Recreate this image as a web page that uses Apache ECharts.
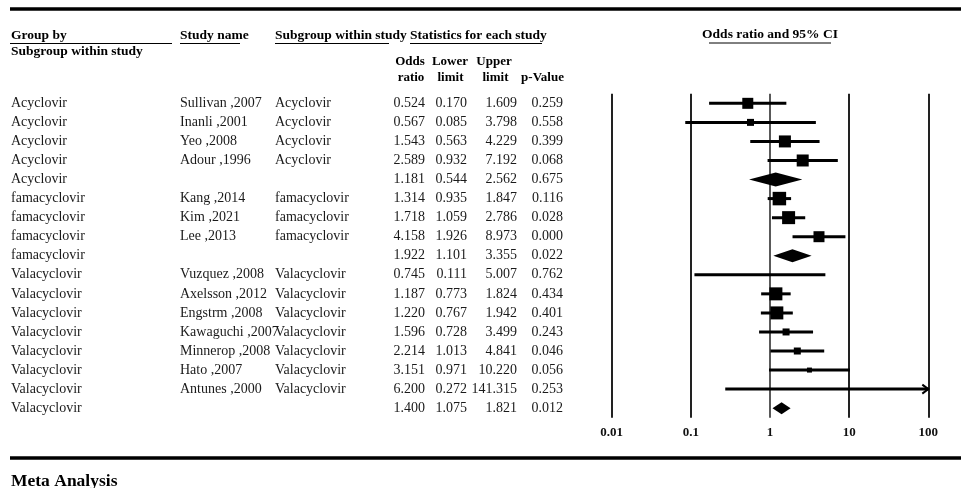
<!DOCTYPE html>
<html><head><meta charset="utf-8">
<script src="https://cdn.jsdelivr.net/npm/echarts@6/dist/echarts.min.js"></script>
<style>html,body{margin:0;padding:0;background:#fff}#c{width:961px;height:488px}</style>
</head><body><div id="c"></div>
<script>
const groups = ['Acyclovir','Acyclovir','Acyclovir','Acyclovir','Acyclovir',
  'famacyclovir','famacyclovir','famacyclovir','famacyclovir',
  'Valacyclovir','Valacyclovir','Valacyclovir','Valacyclovir','Valacyclovir','Valacyclovir','Valacyclovir','Valacyclovir'];
const studies = ['Sullivan ,2007','Inanli ,2001','Yeo ,2008','Adour ,1996','',
  'Kang ,2014','Kim ,2021','Lee ,2013','',
  'Vuzquez ,2008','Axelsson ,2012','Engstrm ,2008','Kawaguchi ,2007','Minnerop ,2008','Hato ,2007','Antunes ,2000',''];
const subgroups = ['Acyclovir','Acyclovir','Acyclovir','Acyclovir','',
  'famacyclovir','famacyclovir','famacyclovir','',
  'Valacyclovir','Valacyclovir','Valacyclovir','Valacyclovir','Valacyclovir','Valacyclovir','Valacyclovir',''];
const oddsRatio  = [0.524,0.567,1.543,2.589,1.181,1.314,1.718,4.158,1.922,0.745,1.187,1.220,1.596,2.214,3.151,6.200,1.400];
const lowerLimit = [0.170,0.085,0.563,0.932,0.544,0.935,1.059,1.926,1.101,0.111,0.773,0.767,0.728,1.013,0.971,0.272,1.075];
const upperLimit = [1.609,3.798,4.229,7.192,2.562,1.847,2.786,8.973,3.355,5.007,1.824,1.942,3.499,4.841,10.220,141.315,1.821];
const pValue     = [0.259,0.558,0.399,0.068,0.675,0.116,0.028,0.000,0.022,0.762,0.434,0.401,0.243,0.046,0.056,0.253,0.012];
const rowType = ['study','study','study','study','summary','study','study','study','summary',
  'study','study','study','study','study','study','study','summary'];
const markSize = [11,7,12,12,14,13.5,13,11,13,1,13,13,7,7,5,1,12];
const xTicks = [0.01,0.1,1,10,100];
const tickLabels = ['0.01','0.1','1','10','100'];

const SERIF = '"Liberation Serif","Times New Roman",serif';
const chart = echarts.init(document.getElementById('c'), null, {renderer:'canvas'});

function txt(text, x, y, o) {
  o = o || {};
  return {type:'text', x:x, y:y, silent:true, style:{text:text, fill:o.fill||'#000',
    fontSize:o.size||13.5, fontWeight:o.weight||'bold', fontFamily:SERIF,
    align:o.align||'left', verticalAlign:'middle'}};
}
function hline(x1, x2, y, w) {
  return {type:'line', silent:true, shape:{x1:x1,y1:y,x2:x2,y2:y}, style:{stroke:'#000', lineWidth:w}};
}

const graphics = [
  hline(10, 961, 9, 3.5),
  hline(10, 961, 458, 3.5),
  txt('Group by', 11, 36), hline(10, 172, 43.5, 1),
  txt('Subgroup within study', 11, 52),
  txt('Study name', 180, 36), hline(180, 240, 43.5, 1),
  txt('Subgroup within study', 275, 36), hline(275, 389, 43.5, 1),
  txt('Statistics for each study', 410, 36), hline(410, 542, 43.5, 1),
  txt('Odds', 410, 62, {align:'center', size:13}),
  txt('Lower', 450, 62, {align:'center', size:13}),
  txt('Upper', 494, 62, {align:'center', size:13}),
  txt('ratio', 411, 78, {align:'center', size:13}),
  txt('limit', 450.5, 78, {align:'center', size:13}),
  txt('limit', 495.5, 78, {align:'center', size:13}),
  txt('p-Value', 542.5, 78, {align:'center', size:13}),
  txt('Odds ratio and 95% CI', 770, 35, {align:'center'}), hline(709, 831, 43, 1),
  txt('Meta Analysis', 11, 481.5, {size:17.5})
];

function renderTable(params, api) {
  const i = params.dataIndex;
  const y = api.coord([1, i])[1];
  const body = (t, x, align) => ({type:'text', x:x, y:y, silent:true, style:{text:t, fill:'#1a1a1a',
    fontSize:14, fontFamily:SERIF, align:align, verticalAlign:'middle'}});
  return {type:'group', children:[
    body(groups[i], 11, 'left'),
    body(studies[i], 180, 'left'),
    body(subgroups[i], 275, 'left'),
    body(oddsRatio[i].toFixed(3), 425, 'right'),
    body(lowerLimit[i].toFixed(3), 467, 'right'),
    body(upperLimit[i].toFixed(3), 517, 'right'),
    body(pValue[i].toFixed(3), 563, 'right')
  ]};
}

function renderForest(params, api) {
  const i = params.dataIndex;
  const xmin = xTicks[0], xmax = xTicks[xTicks.length - 1];
  const c = api.coord([api.value(0), i]);
  const lo = api.coord([Math.max(api.value(2), xmin), i]);
  const hiV = api.value(3);
  const hi = api.coord([Math.min(hiV, xmax), i]);
  const s = api.value(4);
  const ch = [];
  if (rowType[i] === 'summary') {
    ch.push({type:'polygon', shape:{points:[[lo[0], c[1]], [c[0], c[1] - s / 2], [hi[0], c[1]], [c[0], c[1] + s / 2]]},
      style:{fill:'#000'}});
  } else {
    ch.push({type:'line', shape:{x1:lo[0], y1:c[1], x2:hi[0], y2:c[1]}, style:{stroke:'#000', lineWidth:3}});
    if (s > 0) ch.push({type:'rect', shape:{x:c[0] - s / 2, y:c[1] - s / 2, width:s, height:s}, style:{fill:'#000'}});
    if (hiV > xmax) ch.push({type:'polyline', shape:{points:[[hi[0] - 6, c[1] - 4.5], [hi[0], c[1]], [hi[0] - 6, c[1] + 4.5]]},
      style:{stroke:'#000', fill:null, lineWidth:2}});
  }
  return {type:'group', children:ch};
}

const rows = groups.map((g, i) => String(i));

chart.setOption({
  animation:false,
  backgroundColor:'#fff',
  grid:{left:611.7, right:32.7, top:93.8, height:323.9, containLabel:false},
  xAxis:{type:'log', logBase:10, min:xTicks[0], max:xTicks[xTicks.length - 1],
    axisLine:{show:false}, axisTick:{show:false}, splitLine:{show:false}, minorTick:{show:false},
    axisLabel:{show:true, margin:8, fontSize:13, fontWeight:'bold', fontFamily:SERIF, color:'#111',
      formatter:function (v) { const k = xTicks.findIndex(t => Math.abs(Math.log10(t) - Math.log10(v)) < 1e-6); return k >= 0 ? tickLabels[k] : ''; }}},
  yAxis:{type:'category', data:rows, inverse:true, show:false, boundaryGap:true},
  graphic:graphics,
  series:[
    {type:'custom', name:'table', clip:false, silent:true, renderItem:renderTable,
      data:groups.map((g, i) => [1, i]), encode:{x:0, y:1}, z:3},
    {type:'custom', name:'forest', clip:false, silent:true, renderItem:renderForest,
      data:oddsRatio.map((v, i) => [v, i, lowerLimit[i], upperLimit[i], markSize[i]]), encode:{x:0, y:1}, z:5,
      markLine:{silent:true, symbol:['none', 'none'], label:{show:false}, animation:false,
        data:xTicks.map(t => ({xAxis:t, lineStyle:{color:'#222', type:'solid', width:t === 1 ? 1.5 : 2}}))}}
  ]
});
</script></body></html>
